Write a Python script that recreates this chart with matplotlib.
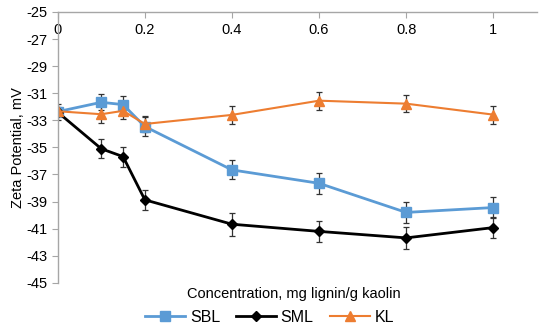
import matplotlib.pyplot as plt
from matplotlib.lines import Line2D
import numpy as np

plt.rcParams['font.family'] = ['Liberation Sans', 'DejaVu Sans']

# данные
conc = [0, 0.1, 0.15, 0.2, 0.4, 0.6, 0.8, 1.0]
sbl = [-32.36, -31.67, -31.84, -33.46, -36.66, -37.65, -39.8, -39.44]
sbl_err = [0.3, 0.6, 0.65, 0.7, 0.7, 0.76, 0.78, 0.76]
sml = [-32.4, -35.1, -35.68, -38.87, -40.67, -41.2, -41.68, -40.92]
sml_err = [0.6, 0.7, 0.73, 0.76, 0.84, 0.8, 0.82, 0.79]
kl = [-32.33, -32.55, -32.3, -33.27, -32.6, -31.55, -31.77, -32.58]
kl_err = [0.3, 0.64, 0.6, 0.6, 0.64, 0.66, 0.64, 0.66]
yticks = np.arange(-45, -24, 2)
xticks = [0, 0.2, 0.4, 0.6, 0.8, 1]

fig = plt.figure(figsize=(5.5, 3.32), dpi=100)
ax = fig.add_axes([0.105, 0.148, 0.871, 0.816])

eb = dict(ecolor='#333333', elinewidth=0.9, capsize=2.5, capthick=0.9)
styles = [
    ('SBL', sbl, sbl_err, '#5B9BD5', 's', 7, 2),
    ('SML', sml, sml_err, 'black', 'D', 5.5, 2),
    ('KL', kl, kl_err, '#ED7D31', '^', 7, 1.5),
]
handles = []
for name, y, e, c, m, ms, lw in styles:
    ax.errorbar(conc, y, yerr=e, color=c, marker=m, ms=ms, lw=lw, **eb)
    handles.append(Line2D([], [], color=c, marker=m, ms=ms, lw=lw, label=name))

ax.set_xlim(0, 1.1)
ax.set_ylim(-45, -25)
ax.set_yticks(yticks)
ax.set_yticklabels([str(v) for v in yticks])
ax.set_xticks(xticks)
ax.set_xticklabels(['0', '0.2', '0.4', '0.6', '0.8', '1'])

for s in ['right', 'bottom']:
    ax.spines[s].set_visible(False)
for s in ['left', 'top']:
    ax.spines[s].set_color('#A6A6A6')
    ax.spines[s].set_linewidth(1)

ax.tick_params(axis='x', top=True, labeltop=True, bottom=False, labelbottom=False,
               direction='in', length=4, color='#A6A6A6', pad=-18, labelsize=10.5)
ax.tick_params(axis='y', direction='out', length=4, color='#A6A6A6', labelsize=10.5)

ax.set_ylabel('Zeta Potential, mV', fontsize=10.5, labelpad=1)
fig.text(0.535, 0.113, 'Concentration, mg lignin/g kaolin', ha='center', va='center', fontsize=10.5)

fig.legend(handles=handles, loc='center', bbox_to_anchor=(0.49, 0.045), ncol=3, frameon=False,
           fontsize=11.5, handlelength=2.5, columnspacing=1.0, handletextpad=0.3)

plt.savefig('out.png', dpi=100)
